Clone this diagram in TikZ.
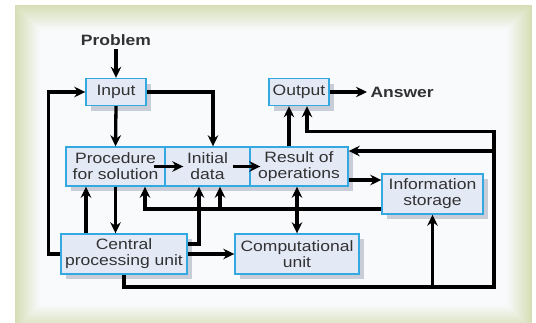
\documentclass[tikz,border=0pt]{standalone}
\usepackage{fontspec}
\setmainfont{Liberation Sans}
\newfontfamily\boxfont[FakeStretch=1.167]{Liberation Sans}
\usetikzlibrary{arrows.meta,calc,shadows}
\definecolor{framegreen}{RGB}{214,222,182}
\definecolor{innerbg}{RGB}{248,250,252}
\definecolor{boxfill}{RGB}{228,233,246}
\definecolor{boxline}{RGB}{52,168,224}
\definecolor{shadowc}{RGB}{200,205,216}
\definecolor{txt}{RGB}{50,50,50}
\begin{document}
\begin{tikzpicture}[x=1pt,y=-1pt,
  blk/.style={draw=boxline, line width=1.4pt, fill=boxfill, inner sep=0pt, align=center,
    font=\boxfont\fontsize{15}{16}\selectfont, text=txt,
    drop shadow={shadow xshift=5pt, shadow yshift=-5pt, fill=shadowc, opacity=1}},
  lbl/.style={font=\boxfont\bfseries\fontsize{15}{16}\selectfont, text=txt},
  arr/.style={line width=3.3pt, -{Stealth[length=11pt,width=10.5pt]}},
  darr/.style={line width=3.3pt, {Stealth[length=11pt,width=10.5pt]}-{Stealth[length=11pt,width=10.5pt]}}]
\useasboundingbox (0,0) rectangle (536,322);
\fill[white] (0,0) rectangle (536,322);
\begin{scope}
\clip (0,0) rectangle (536,322);
\foreach \i in {0,...,25}{
  \pgfmathtruncatemacro\p{100-4*\i}
  \fill[framegreen!\p!innerbg] (15+\i,5+\i) rectangle (532-\i,330-\i);
}
\end{scope}
% nodes
\node[lbl] (problem) at (116,40) {Problem};
\node[blk, minimum width=60pt, minimum height=27pt] (input) at (116,92) {Input};
\node[blk, minimum width=60pt, minimum height=27pt] (output) at (299,92) {Output};
\node[lbl, anchor=west] (answer) at (367,92) {Answer};
\node[blk, minimum width=99pt, minimum height=39pt] (proc) at (115.5,166.5) {Procedure\\for solution};
\node[blk, minimum width=85pt, minimum height=39pt] (init) at (207.5,166.5) {Initial\\data};
\node[blk, minimum width=98pt, minimum height=39pt] (result) at (299,166.5) {Result of\\operations};
\node[blk, minimum width=101pt, minimum height=40pt] (info) at (432.5,194) {Information\\storage};
\node[blk, minimum width=126pt, minimum height=40pt] (cpu) at (124,254) {Central\\processing unit};
\node[blk, minimum width=124pt, minimum height=40pt] (comp) at (297,254) {Computational\\unit};
% connectors
\draw[arr] (problem.south) -- (input.north);
\draw[arr] (input.south) -- (proc.north);
\draw[arr] (input.east) -| ($(init.north)+(5.5,0)$);
\draw[arr] (cpu.west) -- ++(-12,0) |- (input.west);
\draw[arr] ($(proc.east)+(-12,0)$) -- ($(init.west)+(19,0)$);
\draw[arr] ($(init.east)+(-18,0)$) -- ($(result.west)+(11,0)$);
\draw[arr] ($(result.north)+(-10,0)$) -- ($(output.south)+(-10,0)$);
\draw[arr] (output.east) -- (answer.west);
\coordinate (br) at (494,287);
\coordinate (rt) at (494,131.5);
\coordinate (rr) at (494,151);
\draw[arr] (cpu.south) |- (br) -- (rt) -| ($(output.south)+(8,0)$);
\draw[arr] (rr) -- (rr -| result.east);
\draw[arr] (info.south |- br) -- (info.south);
\coordinate (ro) at ($(result.east)+(0,13.5)$);
\draw[arr] (ro) -- (ro -| info.west);
\coordinate (io) at ($(info.west)+(0,15)$);
\coordinate (pb) at ($(proc.south)+(29.5,0)$);
\draw[arr] (io) -| (pb);
\coordinate (ib) at ($(init.south)+(12.5,0)$);
\draw[arr] (ib |- io) -- (ib);
\draw[darr] (comp.north) -- (comp.north |- result.south);
\draw[arr] (proc.south) -- (proc.south |- cpu.north);
\coordinate (cpb) at ($(cpu.north)+(-38,0)$);
\draw[arr] (cpb) -- (cpb |- proc.south);
\coordinate (ce) at ($(cpu.east)+(0,-10)$);
\coordinate (ib2) at ($(init.south)+(-8.5,0)$);
\draw[arr] (ce) -| (ib2);
\draw[arr] (cpu.east) -- (comp.west);
\end{tikzpicture}
\end{document}
